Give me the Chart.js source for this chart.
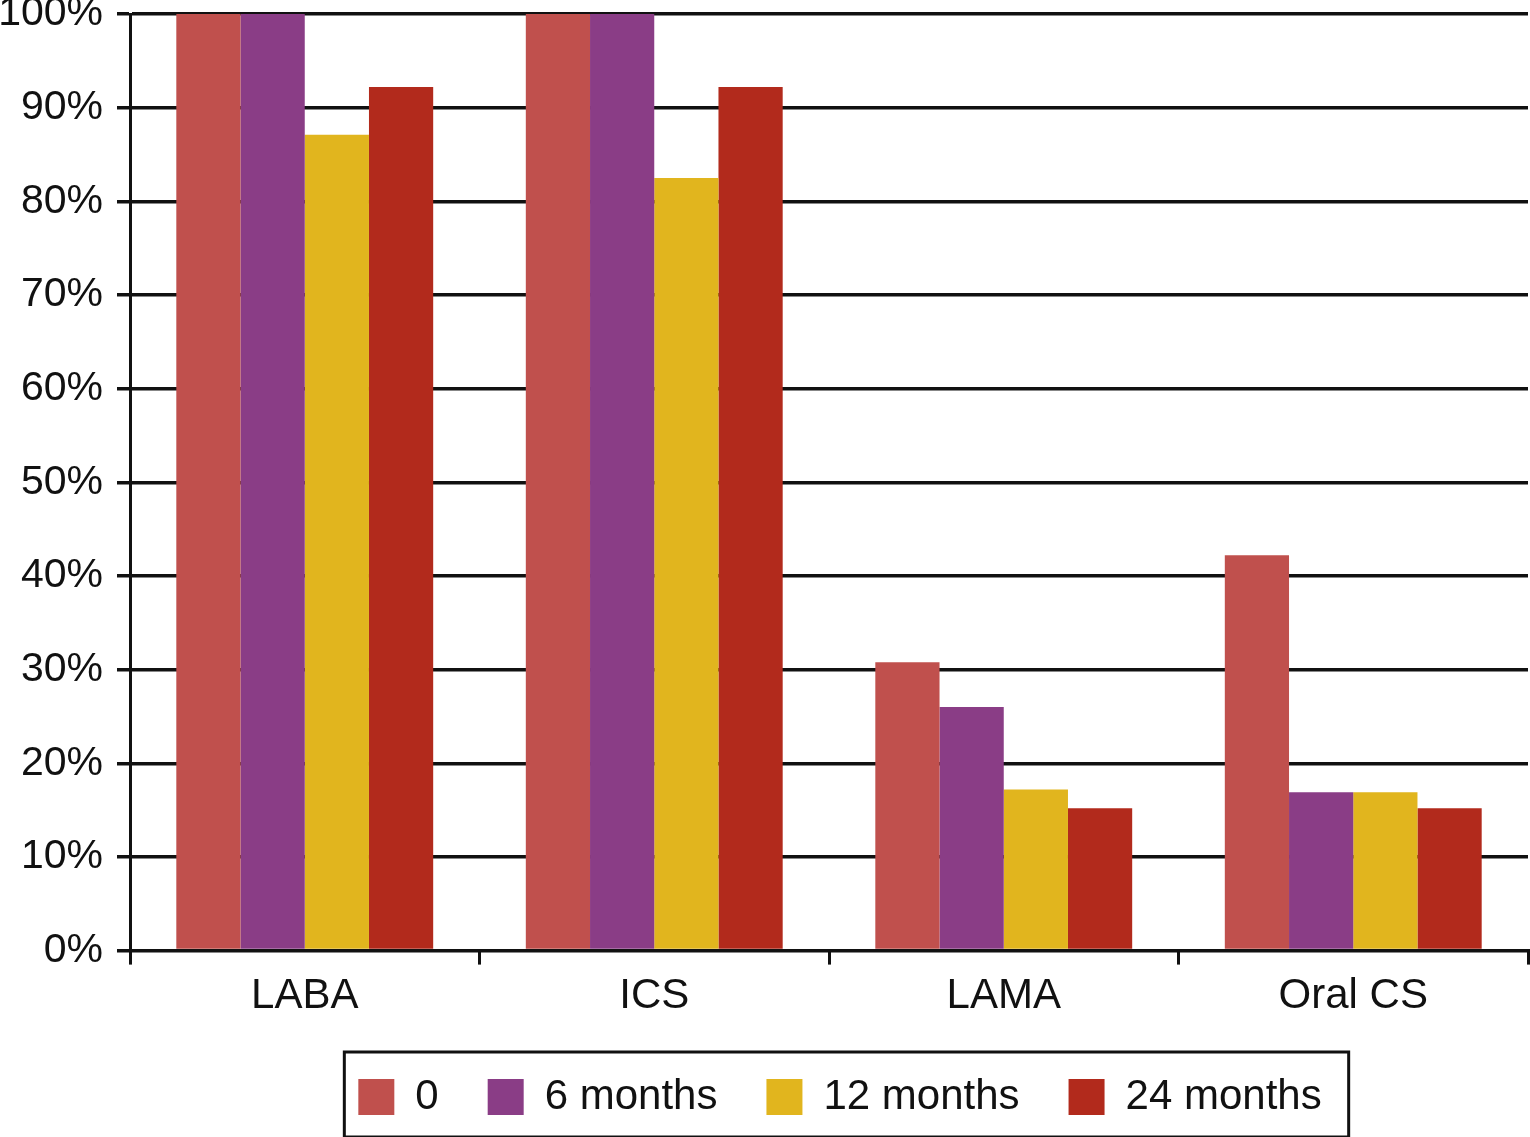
<!DOCTYPE html>
<html>
<head>
<meta charset="utf-8">
<script src="https://cdn.jsdelivr.net/npm/chart.js@4.4.1/dist/chart.umd.min.js"></script>
<style>
  html, body { margin: 0; padding: 0; background: #fff; }
  #wrap { width: 1530px; height: 1137px; }
</style>
</head>
<body>
<div id="wrap"><canvas id="chart" width="1530" height="1137"></canvas></div>
<script>
"use strict";
const categories = ["LABA", "ICS", "LAMA", "Oral CS"];
const seriesNames = ["0", "6 months", "12 months", "24 months"];
const month0 = [100, 100, 30.8, 42.2];
const month6 = [100, 100, 26.0, 16.9];
const month12 = [87.1, 82.5, 17.2, 16.9];
const month24 = [92.2, 92.2, 15.2, 15.2];
const yTicks = [0, 10, 20, 30, 40, 50, 60, 70, 80, 90, 100];

const colors = ["#c0504d", "#8a3d86", "#e1b51e", "#b22a1c"];
const ink = "#111111";
const font = "'Liberation Sans', Arial, Helvetica, sans-serif";

// move the legend to where the figure has it and box it in
const legendFrame = {
  id: "legendFrame",
  afterLayout(chart) {
    const lg = chart.legend;
    const dx = 76;
    const dy = 1027 - lg.top;
    lg.left += dx;
    lg.right += dx;
    lg.top += dy;
    lg.bottom += dy;
  },
  afterDraw(chart) {
    const boxes = chart.legend.legendHitBoxes;
    if (!boxes || !boxes.length) return;
    const first = boxes[0];
    const last = boxes[boxes.length - 1];
    const ctx = chart.ctx;
    ctx.save();
    ctx.strokeStyle = ink;
    ctx.lineWidth = 3;
    const x1 = first.left - 14;
    const x2 = last.left + last.width + 27;
    const y1 = first.top - 24;
    const y2 = first.top + first.height + 19;
    ctx.strokeRect(x1, y1, x2 - x1, y2 - y1);
    ctx.restore();
  },
};

const ctx = document.getElementById("chart");
const chart = new Chart(ctx, {
  type: "bar",
  data: {
    labels: categories,
    datasets: [month0, month6, month12, month24].map((vals, i) => ({
      label: seriesNames[i],
      data: vals,
      backgroundColor: colors[i],
      borderWidth: 0,
      barPercentage: 1.0,
      categoryPercentage: 0.735,
    })),
  },
  options: {
    responsive: false,
    animation: false,
    devicePixelRatio: 1,
    layout: { padding: { left: 0, right: 2, top: 0, bottom: 7 } },
    plugins: {
      tooltip: { enabled: false },
      legend: {
        display: true,
        position: "bottom",
        labels: {
          boxWidth: 36,
          boxHeight: 36,
          padding: 49,
          color: ink,
          font: { family: font, size: 42 },
        },
      },
    },
    scales: {
      x: {
        grid: {
          offset: true,
          drawOnChartArea: false,
          drawTicks: true,
          tickLength: 14,
          color: ink,
          lineWidth: 3,
        },
        border: { display: true, color: ink, width: 3 },
        ticks: {
          color: ink,
          padding: 7,
          font: { family: font, size: 42 },
        },
      },
      y: {
        min: 0,
        max: 100,
        afterBuildTicks(scale) {
          scale.ticks = yTicks.map((v) => ({ value: v }));
        },
        grid: {
          color: ink,
          lineWidth: 3.5,
          drawTicks: true,
          tickLength: 13,
        },
        border: { display: true, color: ink, width: 3 },
        ticks: {
          color: ink,
          padding: 14,
          font: { family: font, size: 41 },
          callback: (v) => v + "%",
        },
        afterFit(scale) {
          scale.width = 130;
          scale.paddingTop = 14;
        },
      },
    },
  },
  plugins: [legendFrame],
});
</script>
</body>
</html>
